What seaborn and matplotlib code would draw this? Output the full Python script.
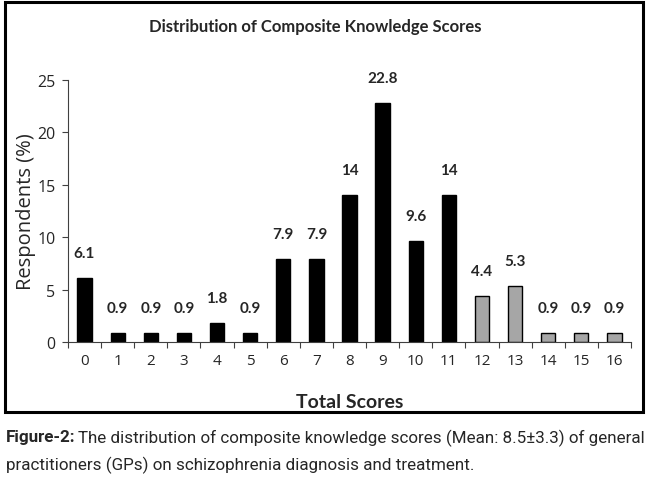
import numpy as np
import pandas as pd
import seaborn as sns
import matplotlib.pyplot as plt
from matplotlib.patches import Rectangle
from matplotlib.ticker import FixedLocator

# Data
scores = [str(i) for i in range(17)]
percents = [6.1, 0.9, 0.9, 0.9, 1.8, 0.9, 7.9, 7.9, 14, 22.8, 9.6, 14, 4.4, 5.3, 0.9, 0.9, 0.9]
groups = ["low"] * 12 + ["high"] * 5
labels = ["6.1", "0.9", "0.9", "0.9", "1.8", "0.9", "7.9", "7.9", "14", "22.8",
          "9.6", "14", "4.4", "5.3", "0.9", "0.9", "0.9"]

df = pd.DataFrame({"score": scores, "pct": percents, "grp": groups})

sns.set_style("white")
plt.rcParams["font.family"] = ["Open Sans", "DejaVu Sans"]
bold_font = ["Lato", "DejaVu Sans"]

fig = plt.figure(figsize=(6.5, 4.85), dpi=100)
ax = fig.add_axes([68 / 650, 1 - 343 / 485, (631 - 68) / 650, (343 - 81) / 485])

sns.barplot(data=df, x="score", y="pct", hue="grp", palette={"low": "black", "high": "#a6a6a6"},
            dodge=False, width=0.43, edgecolor="black", linewidth=1.0, legend=False, ax=ax)

ax.set_ylim(0, 25)
ax.set_xlim(-0.5, 16.5)
ax.set_yticks([0, 5, 10, 15, 20, 25])
ax.tick_params(axis="y", labelsize=11.5, length=4, width=0.8, color="#404040", direction="out", left=True, pad=5)
ax.tick_params(axis="x", which="major", labelsize=11, length=0, pad=8)
ax.xaxis.set_minor_locator(FixedLocator(np.arange(-0.5, 17, 1)))
ax.tick_params(axis="x", which="minor", length=4, width=0.8, color="#404040", direction="out", bottom=True)

for side in ["top", "right"]:
    ax.spines[side].set_visible(False)
for side in ["left", "bottom"]:
    ax.spines[side].set_color("#404040")
    ax.spines[side].set_linewidth(0.8)

# value labels above the bars
for i, (v, lab) in enumerate(zip(percents, labels)):
    ax.annotate(lab, (i, v), xytext=(0, 18), textcoords="offset points", ha="center", va="center",
                fontsize=11, fontweight="bold", family=bold_font)

ax.set_ylabel("Respondents (%)", fontsize=14.5)
ax.yaxis.set_label_coords(-0.056, 0.5)
ax.set_xlabel("")

# chart title and x label
fig.text(315 / 650, 1 - 27 / 485, "Distribution of Composite Knowledge Scores", ha="center", va="center",
         fontsize=12, fontweight="bold", family=bold_font)
fig.text(350 / 650, 1 - 402 / 485, "Total Scores", ha="center", va="center",
         fontsize=14, fontweight="bold", family=bold_font)

# frame around the chart
fig.add_artist(Rectangle((5 / 650, 1 - 413 / 485), 638 / 650, 410 / 485, transform=fig.transFigure,
                         fill=False, edgecolor="black", linewidth=2.2))

# caption below, sized so that the first line fills the width
cap_font = ["Roboto", "DejaVu Sans"]
line1 = "The distribution of composite knowledge scores (Mean: 8.5\u00b13.3) of general"
line2 = "practitioners (GPs) on schizophrenia diagnosis and treatment."
size = 12.5
for _ in range(3):
    t1 = fig.text(6 / 650, 1 - 438 / 485, "Figure-2:", ha="left", va="center", fontsize=size,
                  fontweight="bold", family=cap_font)
    fig.canvas.draw()
    bb = t1.get_window_extent()
    t2 = fig.text((bb.x1 + 3) / 650, 1 - 438 / 485, line1, ha="left", va="center",
                  fontsize=size, family=cap_font)
    fig.canvas.draw()
    right = t2.get_window_extent().x1
    if abs(right - 643) < 3:
        break
    t1.remove()
    t2.remove()
    size = size * (643 - 6) / (right - 6)
fig.text(6 / 650, 1 - 465 / 485, line2, ha="left", va="center", fontsize=size, family=cap_font)

fig.savefig("out.png", dpi=100)
